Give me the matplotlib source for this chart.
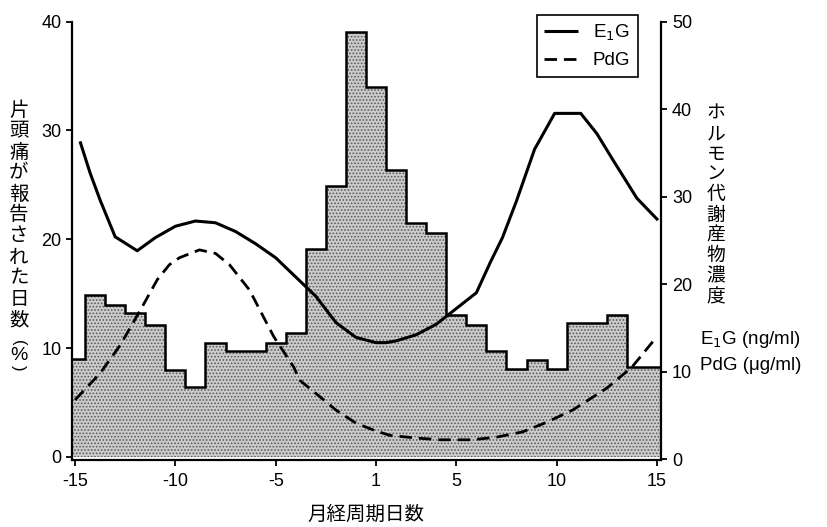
import numpy as np
import matplotlib
matplotlib.use('Agg')
import matplotlib.pyplot as plt

plt.rcParams['font.family'] = ['Liberation Sans', 'Noto Sans CJK JP', 'DejaVu Sans']
plt.rcParams['hatch.linewidth'] = 0.8

# cycle days, there is no day 0 -> each day gets one slot on the x axis
days = list(range(-15, 0)) + list(range(1, 16))
migraine_pct = [9.0, 14.9, 14.0, 13.2, 12.1, 8.0, 6.4, 10.45, 9.7, 9.7,
                10.45, 11.4, 19.1, 24.9, 39.0, 34.0, 26.4, 21.5, 20.6, 13.0,
                12.1, 9.7, 8.1, 8.9, 8.1, 12.3, 12.3, 13.05, 8.3, 8.3]
tick_days = [-15, -10, -5, 1, 5, 10, 15]

# hormone curves, x in slot units (0 = day -15, 29 = day 15)
e1g_x = [0.25, 0.75, 1.25, 2.0, 3.1, 4.0, 5.0, 6.0, 7.0, 8.0, 9.0, 10.0,
         11.0, 12.0, 13.0, 14.0, 15.0, 15.5, 16.0, 17.0, 18.0, 19.0, 20.0,
         20.7, 21.3, 22.0, 22.9, 23.9, 25.2, 26.0, 26.8, 28.0, 29.05]
e1g_y = [36.3, 32.7, 29.6, 25.4, 23.8, 25.3, 26.6, 27.2, 27.0, 26.0, 24.6, 23.0,
         20.8, 18.6, 15.6, 13.9, 13.3, 13.3, 13.5, 14.2, 15.4, 17.2, 19.0,
         22.5, 25.3, 29.5, 35.4, 39.5, 39.5, 37.2, 34.2, 29.8, 27.3]
pdg_x = [0.0, 1.25, 2.25, 3.3, 4.1, 4.7, 5.2, 6.2, 7.0, 7.7, 8.7, 9.4, 9.9,
         10.9, 11.2, 12.4, 13.0, 14.0, 15.0, 15.7, 17.0, 18.2, 19.8, 21.0,
         22.3, 23.5, 24.8, 26.5, 27.75, 29.0]
pdg_y = [6.75, 9.8, 13.0, 17.2, 20.5, 22.2, 23.0, 23.9, 23.5, 22.2, 19.3, 16.2, 14.0,
         10.5, 9.0, 6.75, 5.6, 4.1, 3.2, 2.7, 2.4, 2.2, 2.2, 2.5,
         3.1, 4.2, 5.6, 8.1, 10.5, 14.0]

slots = np.arange(len(days))
edges = np.arange(len(days) + 1) - 0.5
tick_pos = [days.index(d) for d in tick_days]

W, H = 827, 527
fig = plt.figure(figsize=(W / 100, H / 100), dpi=100)
ax = fig.add_axes([72 / W, 67 / H, 589 / W, 438.5 / H])

# histogram: dotted fill + black outline
ax.stairs(migraine_pct, edges, fill=True, facecolor='#cccccc', edgecolor='#5a5a5a',
          hatch='.....', linewidth=0)
ax.stairs(migraine_pct, edges, baseline=0, color='black', linewidth=1.8)

ax.set_xlim(-0.15, 29.2)
ax.set_ylim(-0.28, 40)
ax.set_yticks([0, 10, 20, 30, 40])
ax.set_xticks(tick_pos, [str(d) for d in tick_days])
ax.tick_params(axis='y', direction='out', length=4.5, width=1.3, labelsize=13, pad=3)
ax.tick_params(axis='x', direction='out', length=4.5, width=1.3, labelsize=13, pad=5)
for s in ['top', 'right']:
    ax.spines[s].set_visible(False)
for s in ['left', 'bottom']:
    ax.spines[s].set_linewidth(1.6)

ax2 = ax.twinx()
ax2.plot(e1g_x, e1g_y, color='black', linewidth=2.2, label='E$_1$G', solid_capstyle='butt')
ax2.plot(pdg_x, pdg_y, color='black', linewidth=2.0, dashes=(4.5, 2.5), label='PdG')
ax2.set_ylim(-0.11, 50)
ax2.set_yticks([0, 10, 20, 30, 40, 50])
ax2.tick_params(axis='y', direction='out', length=4.5, width=1.3, labelsize=13, pad=3.5)
for s in ['top', 'left', 'bottom']:
    ax2.spines[s].set_visible(False)
ax2.spines['right'].set_linewidth(1.6)

leg = ax2.legend(loc='upper right', bbox_to_anchor=(638 / W, 1 - 15 / H),
                 bbox_transform=fig.transFigure, borderaxespad=0, fontsize=13.5,
                 handlelength=1.8, fancybox=False, framealpha=1, edgecolor='black')
leg.get_frame().set_linewidth(1.2)

jp = ['Noto Sans CJK JP']
left_label = '片頭痛が報告された日数'
fig.text(19 / W, 1 - 215 / H, '\n'.join(left_label), family=jp, fontsize=14,
         ha='center', va='center', linespacing=1.0)
# "(%)" written vertically: rotated parentheses around %
fig.text(18.5 / W, 1 - 343 / H, '(', rotation=-90, fontsize=12, ha='center', va='center')
fig.text(18.5 / W, 1 - 355 / H, '%', fontsize=14, ha='center', va='center')
fig.text(18.5 / W, 1 - 368 / H, ')', rotation=-90, fontsize=12, ha='center', va='center')

right_label = 'ホルモン代謝産物濃度'
fig.text(716 / W, 1 - 205 / H, '\n'.join(right_label), family=jp, fontsize=13.5,
         ha='center', va='center', linespacing=0.96)
fig.text(700 / W, 1 - 339 / H, 'E$_1$G (ng/ml)', fontsize=13.5, ha='left', va='center')
fig.text(700 / W, 1 - 366 / H, 'PdG (μg/ml)', fontsize=13.5, ha='left', va='center')
fig.text(366 / W, 1 - 514 / H, '月経周期日数', family=jp, fontsize=14, ha='center', va='center')

fig.savefig('out.png', dpi=100)
